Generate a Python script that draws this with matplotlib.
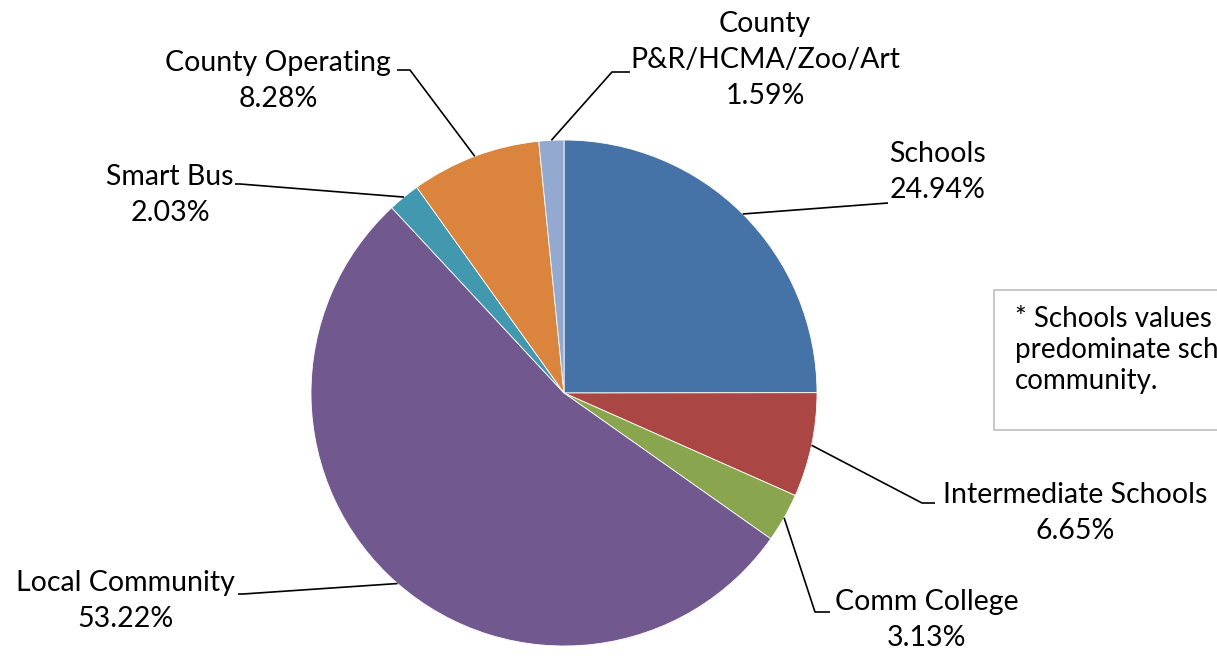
import numpy as np
import matplotlib
matplotlib.use("Agg")
import matplotlib.pyplot as plt
from matplotlib.patches import Rectangle

labels = ["Schools", "Intermediate Schools", "Comm College", "Local Community",
          "Smart Bus", "County Operating", "County\nP&R/HCMA/Zoo/Art"]
shares = [24.94, 6.65, 3.13, 53.22, 2.03, 8.28, 1.59]
colors = ["#4572A7", "#AA4643", "#89A54E", "#71588F", "#4198AF", "#DB843D", "#93A9CF"]
note = "* Schools values are based on the\npredominate school district in the\ncommunity."

# layout in pixels of the 1217x658 image
W, H = 1217, 658
CX, CY, R = 564, 393, 253

def px(x, y):
    return (x - CX) / R, (CY - y) / R

# (elbow x, elbow y, end x, text center x, text center y)
layout = [
    (888, 203, 888, 938, 172),
    (922, 503, 935, 1075, 513),
    (815, 612, 830, 927, 620),
    (243, 594, 238, 125, 601),
    (240, 184, 235, 170, 195),
    (410, 70, 397, 278, 81),
    (612, 72, 630, 765, 60),
]

plt.rcParams['font.family'] = ['Lato', 'DejaVu Sans']
fig = plt.figure(figsize=(W / 100, H / 100), dpi=100)
ax = fig.add_axes([0, 0, 1, 1])
ax.axis('off')

wedges, _ = ax.pie(shares, colors=colors, startangle=90, counterclock=False,
                   radius=1, center=(0, 0), normalize=True,
                   wedgeprops=dict(edgecolor='white', linewidth=0.6))
ax.set_aspect('auto')
ax.set_xlim(-CX / R, (W - CX) / R)
ax.set_ylim(-(H - CY) / R, CY / R)

total = sum(shares)
start = 90.0
for lab, val, (ex, ey, endx, tx, ty) in zip(labels, shares, layout):
    mid = np.deg2rad(start - val / total * 360 / 2)
    start -= val / total * 360
    x0, y0 = np.cos(mid), np.sin(mid)
    x1, y1 = px(ex, ey)
    x2, _ = px(endx, ey)
    ax.plot([x0, x1, x2], [y0, y1, y1], color='black', lw=1.2, solid_capstyle='butt')
    tx_, ty_ = px(tx, ty)
    ax.text(tx_, ty_, f"{lab}\n{val:.2f}%", ha='center', va='center', fontsize=20.5,
            linespacing=1.46)

# note box, running off the right edge as in the original
bx, by = px(994, 430)
bx2, by2 = px(1230, 290)
ax.add_patch(Rectangle((bx, by), bx2 - bx, by2 - by, facecolor='white',
                       edgecolor='#BFBFBF', lw=1.2, clip_on=False))
nx, ny = px(1015, 306)
ax.text(nx, ny, note, ha='left', va='top', fontsize=20, linespacing=1.25)

fig.savefig("out.png", dpi=100)
